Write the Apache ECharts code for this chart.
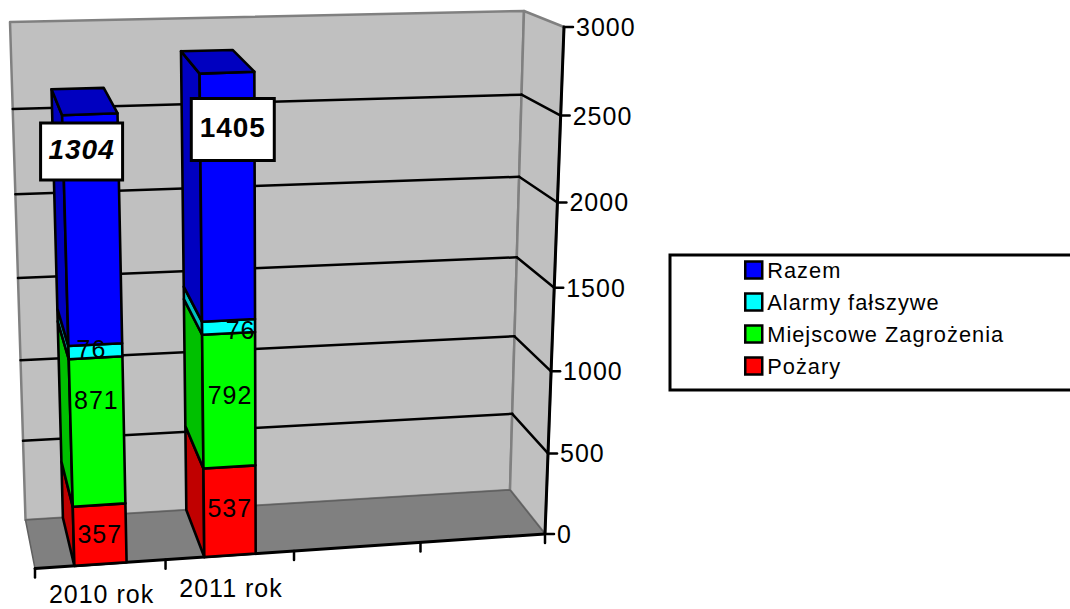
<!DOCTYPE html>
<html>
<head>
<meta charset="utf-8">
<style>
html,body{margin:0;padding:0;background:#fff;overflow:hidden}
#chart{width:1070px;height:609px;letter-spacing:1px}
</style>
<script src="https://cdn.jsdelivr.net/npm/echarts@6/dist/echarts.min.js"></script>
</head>
<body>
<div id="chart"></div>
<script>
// ---- data ----
var categories = ['2010 rok', '2011 rok', '', ''];
var pozary = [357, 537];
var miejscowe = [871, 792];
var alarmy = [76, 76];
var razem = [1304, 1405];
var yTicks = [0, 500, 1000, 1500, 2000, 2500, 3000];

// ---- 3D frame (screen corners of the front and back planes) ----
var FBL=[35,568.5],FBR=[545,534],FTL=[18,45],FTR=[564,27];
var BBL=[25.5,520],BBR=[510,490],BTL=[10,22],BTR=[524,11];
var KU=-0.032,KV=0.055,BAR_RATIO=0.4;
var FONT='"Liberation Sans",Arial,sans-serif';

function sk(t,k){return t*(1-k)/(1-k*t);}
function lerp(a,b,t){return [a[0]+(b[0]-a[0])*t,a[1]+(b[1]-a[1])*t];}
function plane(bl,br,tl,tr,u,v){return lerp(lerp(bl,br,u),lerp(tl,tr,u),v);}
function P(u,v,d){
  var su=sk(u,KU),sv=sk(v,KV);
  return lerp(plane(FBL,FBR,FTL,FTR,su,sv),plane(BBL,BBR,BTL,BTR,su,sv),d);
}
function norm(params,pt){
  var c=params.coordSys;
  return [(pt[0]-c.x)/c.width,(c.y+c.height-pt[1])/c.height];
}
function poly(points,fill,stroke,lw){
  return {type:'polygon',shape:{points:points},silent:true,
    style:{fill:fill,stroke:stroke||null,lineWidth:lw||0,lineJoin:'round'}};
}
function line(a,b,stroke,lw){
  return {type:'line',silent:true,shape:{x1:a[0],y1:a[1],x2:b[0],y2:b[1]},
    style:{stroke:stroke,lineWidth:lw,lineCap:'round',fill:null}};
}
function txt(s,x,y,size,extra){
  var st={text:s,x:x,y:y,fill:'#000',font:(extra||'')+' '+size+'px '+FONT,
    align:'center',verticalAlign:'middle'};
  return {type:'text',silent:true,style:st};
}

function renderScene(params,api){
  var ch=[];
  // walls and floor
  ch.push(poly([P(0,0,1),P(1,0,1),P(1,1,1),P(0,1,1)],'#c0c0c0','#808080',2.5));
  ch.push(poly([P(1,0,1),P(1,0,0),P(1,1,0),P(1,1,1)],'#c0c0c0','#808080',2.5));
  ch.push(poly([P(0,0,0),P(1,0,0),P(1,0,1),P(0,0,1)],'#808080','#606060',1.5));
  // gridlines
  yTicks.forEach(function(t){
    var v=norm(params,api.coord([0,t]))[1];
    if(t>0&&t<3000){
      ch.push(line(P(0,v,1),P(1,v,1),'#000',2.5));
      ch.push(line(P(1,v,1),P(1,v,0),'#000',2.5));
    }
    var a=P(1,v,0);
    ch.push(line(a,[a[0]+9,a[1]],'#000',2.5));
    ch.push(txt(String(t),a[0]+12,a[1],25));
    ch[ch.length-1].style.align='left';
  });
  // axes
  ch.push(line(P(0,0,0),P(1,0,0),'#000',3));
  ch.push(line(P(1,0,0),P(1,1,0),'#000',3));
  // category ticks and labels
  var n=categories.length;
  for(var i=0;i<=n;i++){
    var a=P(i/n,0,0);
    ch.push(line(a,[a[0],a[1]+9],'#000',2.5));
  }
  categories.forEach(function(c,i){
    if(!c)return;
    var uc=norm(params,api.coord([i,0]))[0];
    var a=P(uc,0,0);
    ch.push(txt(c,a[0]+1,Math.min(a[1]+33,594),25));
  });
  return {type:'group',children:ch};
}

function barSeries(name,color,side,values,bases,withCap){
  return {
    name:name,type:'custom',coordinateSystem:'cartesian2d',
    itemStyle:{color:color},silent:true,
    data:values.map(function(v,i){return [i,bases[i],bases[i]+v];}),
    renderItem:function(params,api){
      var i=api.value(0);
      var b=api.size([1,0])[0]*BAR_RATIO/params.coordSys.width/2;
      var uc=norm(params,api.coord([i,0]))[0];
      var v0=norm(params,api.coord([i,api.value(1)]))[1];
      var v1=norm(params,api.coord([i,api.value(2)]))[1];
      var u0=uc-b,u1=uc+b,ch=[];
      ch.push(poly([P(u0,v0,1),P(u0,v0,0),P(u0,v1,0),P(u0,v1,1)],side,'#000',2.6));
      ch.push(poly([P(u0,v0,0),P(u1,v0,0),P(u1,v1,0),P(u0,v1,0)],color,'#000',2.6));
      if(withCap){
        ch.push(poly([P(u0,v1,0),P(u1,v1,0),P(u1,v1,1),P(u0,v1,1)],side,'#000',2.6));
      }
      return {type:'group',children:ch};
    }
  };
}

var b1=[0,0],b2=pozary.slice(),b3=pozary.map(function(v,i){return v+miejscowe[i];}),
    b4=b3.map(function(v,i){return v+alarmy[i];});

// label nudges from the middle of each front face: [series][category] = [dx,dy]
var nudges=[[[0,-1],[0,-3]],[[-1,-31],[1,-5]],[[-4,-2],[12,3]],[[-11,-78],[5,-67]]];
var boxSizes=[[82,57],[83,62]];
var stacks=[[pozary,b1],[miejscowe,b2],[alarmy,b3],[razem,b4]];

function renderLabels(params,api){
  var ch=[];
  stacks.forEach(function(st,s){
    st[0].forEach(function(val,i){
      var uc=norm(params,api.coord([i,0]))[0];
      var v0=norm(params,api.coord([i,st[1][i]]))[1];
      var v1=norm(params,api.coord([i,st[1][i]+val]))[1];
      var a=P(uc,v0,0),c=P(uc,v1,0);
      var x=(a[0]+c[0])/2+nudges[s][i][0],y=(a[1]+c[1])/2+nudges[s][i][1];
      if(s===3){
        var sz=boxSizes[i];
        ch.push({type:'rect',silent:true,shape:{x:x-sz[0]/2,y:y-sz[1]/2,width:sz[0],height:sz[1]},
          style:{fill:'#fff',stroke:'#000',lineWidth:3}});
        ch.push(txt(String(val),x,y-2,28,i===0?'italic bold':'bold'));
      }else{
        ch.push(txt(String(val),x,y,25));
      }
    });
  });
  return {type:'group',children:ch};
}

var chart=echarts.init(document.getElementById('chart'),null,{renderer:'svg'});
chart.setOption({
  animation:false,
  backgroundColor:'#fff',
  tooltip:{show:false},
  textStyle:{fontFamily:FONT},
  grid:{left:0,top:0,width:1000,height:500},
  xAxis:{type:'category',data:categories,show:false},
  yAxis:{type:'value',min:0,max:3000,interval:500,show:false},
  legend:{
    show:true,orient:'vertical',left:670,top:255,
    data:['Razem','Alarmy fałszywe','Miejscowe Zagrożenia','Pożary'],
    icon:'rect',itemWidth:17,itemHeight:17,itemGap:10,
    padding:[4,200,13,74],
    borderColor:'#000',borderWidth:3,backgroundColor:'#fff',
    itemStyle:{borderColor:'#000',borderWidth:2.5},
    selectedMode:false,
    textStyle:{fontFamily:FONT,fontSize:21.8,color:'#000'}
  },
  series:[
    {name:'scene',type:'custom',coordinateSystem:'cartesian2d',silent:true,data:[[0,0]],renderItem:renderScene},
    barSeries('Pożary','#ff0000','#c00000',pozary,b1,false),
    barSeries('Miejscowe Zagrożenia','#00ff00','#00c000',miejscowe,b2,false),
    barSeries('Alarmy fałszywe','#00ffff','#00c0c0',alarmy,b3,false),
    barSeries('Razem','#0000ff','#0000c0',razem,b4,true),
    {name:'labels',type:'custom',coordinateSystem:'cartesian2d',silent:true,data:[[0,0]],renderItem:renderLabels}
  ]
});
</script>
</body>
</html>
